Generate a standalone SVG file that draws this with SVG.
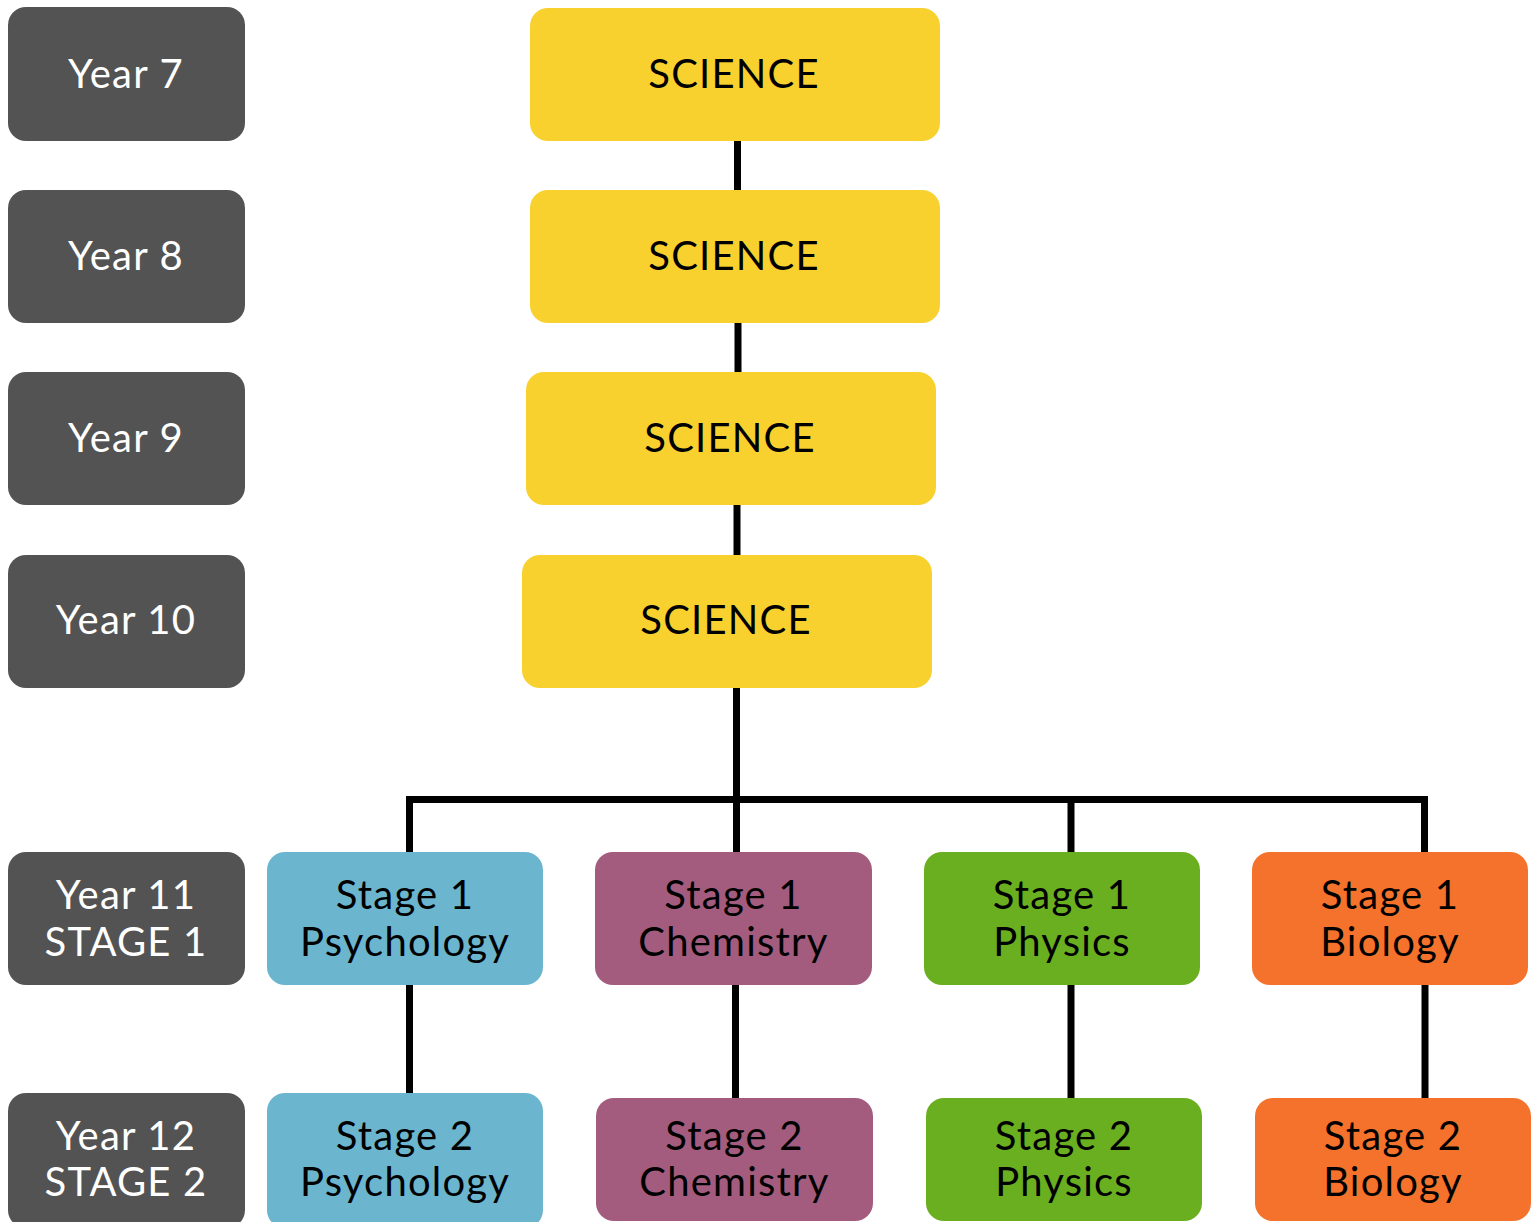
<svg xmlns="http://www.w3.org/2000/svg" width="1537" height="1222" viewBox="0 0 1537 1222">
<style>
  .box { rx: 18px; ry: 18px; }
  .year { fill: #535353; }
  .sci { fill: #F8D12E; }
  .psy { fill: #6BB5CE; }
  .chem { fill: #A35C7D; }
  .phys { fill: #6AAF1F; }
  .bio { fill: #F4722B; }
  text { font-family: "Lato", "Open Sans", "Liberation Sans", sans-serif; font-size: 40px; font-weight: 400; text-anchor: middle; letter-spacing: 1.2px; }
  .w { fill: #FFFFFF; }
  .k { fill: #000000; }
  .conn { stroke: #000; stroke-width: 7; fill: none; stroke-linejoin: miter; }
</style>
<rect width="1537" height="1222" fill="#FFFFFF"/>
<g id="connectors">
  <path class="conn" d="M737.5 141 V190"/>
  <path class="conn" d="M738 323 V372"/>
  <path class="conn" d="M737 505 V555"/>
  <path class="conn" d="M736.5 688 V852"/>
  <path class="conn" d="M409.5 852 V799.5 H1424.5 V852"/>
  <path class="conn" d="M1071 803 V852"/>
  <path class="conn" d="M409.5 985 V1093"/>
  <path class="conn" d="M735.5 985 V1098"/>
  <path class="conn" d="M1071 985 V1098"/>
  <path class="conn" d="M1425 985 V1098"/>
</g>
<g id="year7"><rect class="box year" x="8" y="7" width="237" height="134"/><text class="w" x="126" y="88">Year 7</text></g>
<g id="year8"><rect class="box year" x="8" y="190" width="237" height="133"/><text class="w" x="126" y="270">Year 8</text></g>
<g id="year9"><rect class="box year" x="8" y="372" width="237" height="133"/><text class="w" x="126" y="452">Year 9</text></g>
<g id="year10"><rect class="box year" x="8" y="555" width="237" height="133"/><text class="w" x="126" y="634">Year 10</text></g>
<g id="year11"><rect class="box year" x="8" y="852" width="237" height="133"/><text class="w" x="126" y="909">Year 11</text><text class="w" x="126" y="956">STAGE 1</text></g>
<g id="year12"><rect class="box year" x="8" y="1093" width="237" height="135"/><text class="w" x="126" y="1150">Year 12</text><text class="w" x="126" y="1196">STAGE 2</text></g>

<g id="science7"><rect class="box sci" x="530" y="8" width="410" height="133"/><text class="k" x="734" y="88">SCIENCE</text></g>
<g id="science8"><rect class="box sci" x="530" y="190" width="410" height="133"/><text class="k" x="734" y="270">SCIENCE</text></g>
<g id="science9"><rect class="box sci" x="526" y="372" width="410" height="133"/><text class="k" x="730" y="452">SCIENCE</text></g>
<g id="science10"><rect class="box sci" x="522" y="555" width="410" height="133"/><text class="k" x="726" y="634">SCIENCE</text></g>

<g id="s1psychology"><rect class="box psy" x="267" y="852" width="276" height="133"/><text class="k" x="405" y="909">Stage 1</text><text class="k" x="405" y="956">Psychology</text></g>
<g id="s1chemistry"><rect class="box chem" x="595" y="852" width="277" height="133"/><text class="k" x="733.5" y="909">Stage 1</text><text class="k" x="733.5" y="956">Chemistry</text></g>
<g id="s1physics"><rect class="box phys" x="924" y="852" width="276" height="133"/><text class="k" x="1062" y="909">Stage 1</text><text class="k" x="1062" y="956">Physics</text></g>
<g id="s1biology"><rect class="box bio" x="1252" y="852" width="276" height="133"/><text class="k" x="1390" y="909">Stage 1</text><text class="k" x="1390" y="956">Biology</text></g>

<g id="s2psychology"><rect class="box psy" x="267" y="1093" width="276" height="135"/><text class="k" x="405" y="1150">Stage 2</text><text class="k" x="405" y="1196">Psychology</text></g>
<g id="s2chemistry"><rect class="box chem" x="596" y="1098" width="277" height="123"/><text class="k" x="734.5" y="1150">Stage 2</text><text class="k" x="734.5" y="1196">Chemistry</text></g>
<g id="s2physics"><rect class="box phys" x="926" y="1098" width="276" height="123"/><text class="k" x="1064" y="1150">Stage 2</text><text class="k" x="1064" y="1196">Physics</text></g>
<g id="s2biology"><rect class="box bio" x="1255" y="1098" width="276" height="123"/><text class="k" x="1393" y="1150">Stage 2</text><text class="k" x="1393" y="1196">Biology</text></g>
</svg>
